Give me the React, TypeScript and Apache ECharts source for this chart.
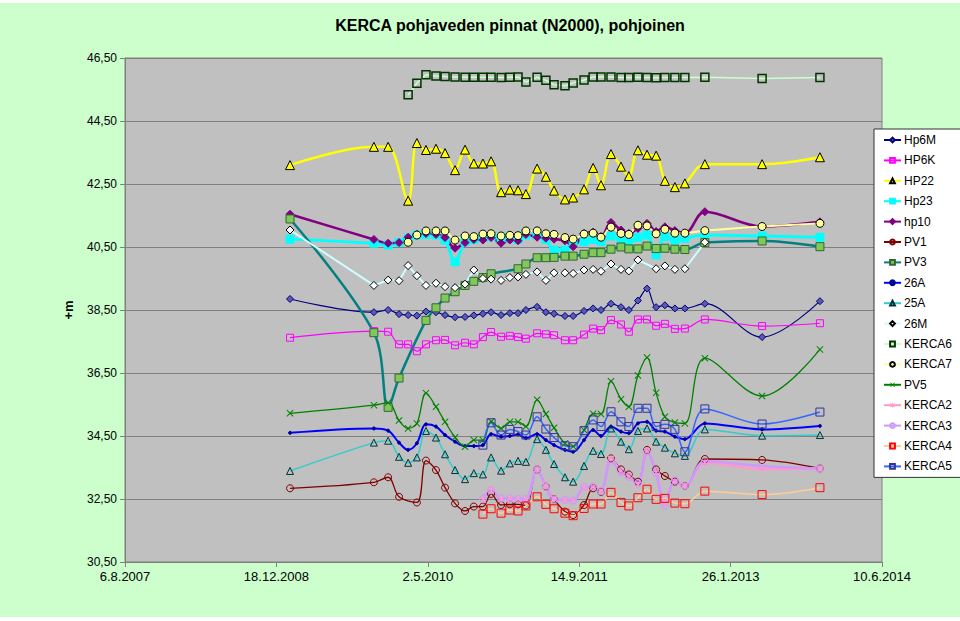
import React, { useEffect, useRef } from "react";
import * as echarts from "echarts";

const N = null;

// measurement dates
const DATES = [
  "2009-02-01", "2009-11-05", "2009-12-22", "2010-01-27", "2010-02-26", "2010-03-27",
  "2010-04-26", "2010-05-29", "2010-06-28", "2010-07-31", "2010-09-02", "2010-10-01",
  "2010-10-31", "2010-11-27", "2010-12-30", "2011-01-28", "2011-02-24", "2011-03-22",
  "2011-04-28", "2011-05-27", "2011-06-23", "2011-07-29", "2011-08-25", "2011-09-30",
  "2011-10-30", "2011-11-25", "2011-12-28", "2012-01-30", "2012-02-25", "2012-03-26",
  "2012-04-25", "2012-05-25", "2012-06-23", "2012-07-26", "2012-08-28", "2012-11-02",
  "2013-05-10", "2013-11-17",
];

const hp6M = [38.85, 38.43, 38.50, 38.37, 38.34, 38.32, 38.45, 38.43, 38.34, 38.27, 38.28, 38.33, 38.38, 38.43, 38.34, 38.40, 38.40, 38.50, 38.60, 38.43, 38.38, 38.31, 38.31, 38.47, 38.55, 38.50, 38.70, 38.59, 38.50, 38.80, 39.18, 38.59, 38.65, 38.55, 38.55, 38.70, 37.64, 38.78];
const hp6K = [37.62, 37.83, 37.81, 37.41, 37.41, 37.19, 37.41, 37.54, 37.55, 37.38, 37.46, 37.41, 37.64, 37.80, 37.65, 37.68, 37.64, 37.59, 37.76, 37.73, 37.70, 37.54, 37.54, 37.72, 37.91, 37.86, 38.18, 38.04, 37.81, 38.20, 38.20, 38.00, 38.06, 37.90, 37.91, 38.20, 37.99, 38.08];
const hp22 = [43.10, 43.68, 43.68, N, 41.97, 43.80, 43.58, 43.62, 43.48, 42.94, 43.59, 43.15, 43.15, 43.22, 42.24, 42.32, 42.30, 42.18, 42.99, 42.73, 42.29, 42.01, 42.07, 42.33, 43.01, 42.46, 43.45, 43.05, 42.75, 43.57, 43.43, 43.40, 42.60, 42.40, 42.52, 43.13, 43.13, 43.35];
const hp23 = [40.75, 40.62, 40.56, 40.64, 40.78, 40.88, 40.90, 40.88, 40.72, 40.03, 40.67, 40.74, 40.81, 40.83, 40.81, 40.78, 40.74, 40.88, 40.88, 40.74, 40.40, 40.40, 40.62, 40.67, 40.74, 40.67, 40.85, 40.72, 40.64, 40.81, 40.88, 40.25, 40.83, 40.72, 40.78, 40.88, 40.85, 40.81];
const hp10 = [41.54, 40.74, 40.62, 40.64, 40.81, 40.90, 40.93, 40.90, 40.80, 40.46, 40.64, 40.74, 40.72, 40.80, 40.62, 40.72, 40.70, 40.90, 40.81, 40.78, 40.75, 40.70, 40.51, 40.93, 40.97, 40.83, 41.28, 41.04, 40.93, 41.09, 41.25, 40.99, 41.14, 41.02, 40.93, 41.62, 41.15, 41.30];
const pv1 = [32.84, 33.03, 33.19, 32.57, N, 32.39, 33.72, 33.42, 32.86, 32.36, 32.12, 32.26, 32.26, 32.66, 32.31, 32.33, 32.33, 32.29, 33.44, 32.89, 32.49, 32.10, 31.99, 32.31, 32.84, 32.73, 33.79, 33.44, 33.28, 33.05, 34.06, 33.44, 33.23, 33.05, 32.91, 33.77, 33.74, 33.47];
const pv3 = [41.39, 37.78, 35.41, 36.34, N, N, 38.17, 38.57, 38.88, 39.08, 39.28, 39.41, 39.53, 39.65, N, N, 39.81, 39.96, 40.16, 40.16, 40.17, 40.21, 40.21, 40.27, 40.32, 40.32, 40.43, 40.50, 40.44, 40.44, 40.53, 40.45, 40.46, 40.43, 40.42, 40.64, 40.69, 40.51];
const a26 = [34.60, 34.74, 34.67, 34.29, 34.06, 34.27, 34.87, 34.80, 34.53, 34.32, 34.18, 34.18, 34.21, 34.56, 34.48, 34.50, 34.55, 34.43, 34.56, 34.37, 34.21, 34.06, 34.00, 34.37, 34.69, 34.50, 34.80, 34.64, 34.59, 34.90, 34.95, 34.67, 34.64, 34.48, 34.40, 34.90, 34.71, 34.82];
const a25 = [33.39, 34.29, 34.35, 33.84, 33.65, 33.82, 34.66, 34.45, 33.92, 33.42, 33.13, 33.32, 33.28, 33.82, 33.40, 33.63, 33.71, 33.68, 34.40, 34.06, 33.61, 33.19, 33.05, 33.55, 34.03, 33.93, 34.74, 34.32, 34.08, 34.66, 34.74, 34.32, 34.13, 33.95, 33.87, 34.71, 34.51, 34.53];
const m26 = [41.04, 39.28, 39.45, 39.43, 39.91, 39.59, 39.28, 39.35, 39.24, 39.21, 39.32, 39.77, 39.50, 39.48, 39.44, 39.53, 39.55, 39.63, 39.71, 39.44, 39.68, 39.68, 39.66, 39.77, 39.79, 39.73, 39.96, 39.79, 39.74, 40.09, N, 39.81, 39.90, 39.79, 39.81, 40.65, N, N];
const kerca6 = [N, N, N, N, 45.33, 45.70, 45.97, 45.93, 45.91, 45.90, 45.89, 45.89, 45.89, 45.89, 45.88, 45.89, 45.90, 45.74, 45.89, 45.79, 45.65, 45.62, 45.71, 45.80, 45.90, 45.90, 45.90, 45.88, 45.88, 45.89, 45.88, 45.87, 45.88, 45.88, 45.88, 45.89, 45.85, 45.88];
const kerca7 = [N, N, N, N, 40.65, 40.88, 41.01, 41.01, 41.01, 40.72, 40.85, 40.83, 40.91, 40.92, 40.85, 40.87, 40.86, 41.01, 41.01, 40.92, 40.90, 40.80, 40.75, 40.91, 40.94, 40.81, 41.13, 40.93, 40.90, 41.19, 41.17, 40.92, 41.06, 40.94, 40.94, 41.02, 41.15, 41.25];
const pv5 = [35.22, 35.48, 35.56, 34.99, 34.74, 34.90, 35.86, 35.43, 34.95, 34.46, 34.16, 34.37, 34.37, 34.96, 34.74, 34.95, 34.95, 34.80, 35.65, 35.20, 34.76, 34.26, 34.17, 34.69, 35.21, 35.20, 36.24, 35.67, 35.43, 36.42, 36.99, 35.87, 35.11, 34.93, 34.90, 36.97, 35.77, 37.25];
const kerca2 = [N, N, N, N, N, N, N, N, N, N, N, N, 32.48, 32.80, 32.50, 32.50, 32.50, 32.48, 33.45, 32.92, 32.50, 32.45, 32.45, 32.85, 32.88, 32.75, 33.78, 33.38, 33.22, 32.95, 34.02, 33.35, 32.40, 33.05, 32.92, 33.65, 33.45, 33.45];
const kerca3 = [N, N, N, N, N, N, N, N, N, N, N, N, 32.50, 32.78, 32.52, 32.52, 32.50, 32.50, 33.45, 32.88, 32.48, 32.47, 32.45, 32.88, 32.90, 32.75, 33.72, 33.35, 33.20, 33.00, 34.00, 33.30, 32.30, 33.10, 32.90, 33.70, 33.55, 33.47];
const kerca4 = [N, N, N, N, N, N, N, N, N, N, N, N, 32.02, 32.19, 32.05, 32.15, 32.12, 32.28, 32.57, 32.33, 32.19, 32.05, 31.97, 32.20, 32.34, 32.34, 32.71, 32.39, 32.28, 32.54, 32.81, 32.49, 32.52, 32.37, 32.35, 32.75, 32.64, 32.86];
const kerca5 = [N, N, N, N, N, N, N, N, N, N, N, N, 34.21, 34.92, 34.53, 34.71, 34.64, 34.53, 35.11, 34.72, 34.45, 34.19, 34.16, 34.67, 35.01, 34.80, 35.27, 34.95, 34.80, 35.38, 35.38, 34.80, 34.87, 34.71, 34.00, 35.36, 34.88, 35.26];

const TITLE = "KERCA pohjaveden pinnat (N2000), pohjoinen";
const Y_NAME = "+m";
const Y_MIN = 30.5;
const Y_MAX = 46.5;
const Y_STEP = 2;
const X_START = "2007-08-06";
const X_SPAN_DAYS = 2500;
const X_STEP_DAYS = 500;

const DAY = 86400000;
const BASE = Date.parse(X_START);
const toDay = (s: string) => (Date.parse(s) - BASE) / DAY;

const X_PATH = "path://M0,1L1,0L5,4L9,0L10,1L6,5L10,9L9,10L5,6L1,10L0,9L4,5Z";
const STAR_PATH = "path://M4.4,0H5.6V10H4.4Z M0,1L1,0L5,4L9,0L10,1L6,5L10,9L9,10L5,6L1,10L0,9L4,5Z";
const CLEAR = "rgba(0,0,0,0)";

type Def = {
  name: string; data: (number | null)[]; color: string; width: number;
  symbol: string; size: number; fill: string; border: string; bw?: number; smooth?: boolean;
};

const DEFS: Def[] = [
  { name: "Hp6M", data: hp6M, color: "#000080", width: 1.2, symbol: "diamond", size: 7, fill: "#5a5ab0", border: "#000080" },
  { name: "HP6K", data: hp6K, color: "#FF00FF", width: 1.2, symbol: "rect", size: 7, fill: CLEAR, border: "#FF00FF" },
  { name: "HP22", data: hp22, color: "#FFFF00", width: 2.5, symbol: "triangle", size: 9, fill: "#FFFF00", border: "#000000" },
  { name: "Hp23", data: hp23, color: "#00FFFF", width: 3, symbol: "rect", size: 8, fill: "#00FFFF", border: "#00FFFF" },
  { name: "hp10", data: hp10, color: "#800080", width: 2.5, symbol: "diamond", size: 8, fill: "#800080", border: "#800080" },
  { name: "PV1", data: pv1, color: "#800000", width: 1.3, symbol: "circle", size: 7, fill: CLEAR, border: "#800000" },
  { name: "PV3", data: pv3, color: "#008080", width: 2.5, symbol: "rect", size: 8, fill: "#80C85A", border: "#336633" },
  { name: "26A", data: a26, color: "#0000FF", width: 2, symbol: "circle", size: 3, fill: "#000099", border: "#000099" },
  { name: "25A", data: a25, color: "#33CCCC", width: 1.5, symbol: "triangle", size: 7, fill: CLEAR, border: "#003333" },
  { name: "26M", data: m26, color: "#CCFFFF", width: 2, symbol: "diamond", size: 8, fill: "#FFFFFF", border: "#000000", smooth: false },
  { name: "KERCA6", data: kerca6, color: "#CCFFCC", width: 1.5, symbol: "rect", size: 8, fill: CLEAR, border: "#003300", bw: 1.5, smooth: false },
  { name: "KERCA7", data: kerca7, color: "#FFFF99", width: 2, symbol: "circle", size: 8, fill: "#FFFF99", border: "#000000" },
  { name: "PV5", data: pv5, color: "#008000", width: 1.3, symbol: X_PATH, size: 7, fill: "#008000", border: "#008000", bw: 0 },
  { name: "KERCA2", data: kerca2, color: "#FF99CC", width: 2.5, symbol: STAR_PATH, size: 7, fill: "#FF99CC", border: "#FF99CC", bw: 0 },
  { name: "KERCA3", data: kerca3, color: "#CC99FF", width: 2.5, symbol: "circle", size: 7, fill: CLEAR, border: "#CC99FF" },
  { name: "KERCA4", data: kerca4, color: "#FFCC99", width: 1.5, symbol: "rect", size: 8, fill: CLEAR, border: "#FF0000" },
  { name: "KERCA5", data: kerca5, color: "#3366FF", width: 1.5, symbol: "rect", size: 8, fill: CLEAR, border: "#333399" },
];

const fmtDate = (v: number) => {
  const d = new Date(BASE + v * DAY);
  return `${d.getUTCDate()}.${d.getUTCMonth() + 1}.${d.getUTCFullYear()}`;
};

export default function App() {
  const ref = useRef<HTMLDivElement>(null);
  useEffect(() => {
    if (!ref.current) return;
    const chart = echarts.init(ref.current, null, { renderer: "svg" });
    const series = DEFS.map((s) => ({
      name: s.name,
      type: "line",
      smooth: s.smooth === false ? false : 0.35,
      symbol: s.symbol,
      symbolSize: s.size,
      showSymbol: true,
      data: DATES.map((d, i) => (s.data[i] == null ? null : [toDay(d), (s.data[i] as number) - Y_MIN])).filter((p) => p !== null),
      lineStyle: { color: s.color, width: s.width },
      itemStyle: { color: s.fill, borderColor: s.border, borderWidth: s.bw ?? 1 },
      emphasis: { disabled: true },
    }));
    chart.setOption({
      animation: false,
      backgroundColor: "transparent",
      textStyle: { fontFamily: "Arial, 'Liberation Sans', sans-serif" },
      graphic: [
        {
          type: "text", x: 510, y: 25,
          style: { text: TITLE, font: "bold 16px Arial, 'Liberation Sans', sans-serif", fill: "#000", textAlign: "center", textVerticalAlign: "middle" },
        },
        {
          type: "text", x: 68, y: 310, rotation: Math.PI / 2,
          style: { text: Y_NAME, font: "bold 13px Arial, 'Liberation Sans', sans-serif", fill: "#000", textAlign: "center", textVerticalAlign: "middle" },
        },
      ],
      grid: {
        left: 125, top: 58, width: 757, height: 504, containLabel: false,
        show: true, backgroundColor: "#C0C0C0", borderColor: "#808080", borderWidth: 1,
      },
      legend: {
        orient: "vertical", left: 874, top: 129,
        backgroundColor: "#FFFFFF", borderColor: "#333333", borderWidth: 1,
        padding: [4, 10, 4, 9], itemWidth: 17, itemHeight: 6, itemGap: 6.4,
        textStyle: { fontSize: 12, color: "#000", fontFamily: "Arial, 'Liberation Sans', sans-serif", padding: [0, 0, 0, -2], lineHeight: 14 },
        data: DEFS.map((d) => d.name),
      },
      xAxis: {
        type: "value", min: 0, max: X_SPAN_DAYS, interval: X_STEP_DAYS,
        axisLine: { show: true, onZero: false, lineStyle: { color: "#808080" } },
        axisTick: { show: true, length: 5, lineStyle: { color: "#808080" } },
        splitLine: { show: false },
        axisLabel: { formatter: fmtDate, color: "#000", fontSize: 13, margin: 8, showMinLabel: true, showMaxLabel: true },
      },
      yAxis: {
        type: "value", min: 0, max: Y_MAX - Y_MIN, interval: Y_STEP,
        axisLine: { show: true, lineStyle: { color: "#808080" } },
        axisTick: { show: true, length: 5, lineStyle: { color: "#808080" } },
        splitLine: { show: true, lineStyle: { color: "#808080", width: 1 } },
        axisLabel: { formatter: (v: number) => (v + Y_MIN).toFixed(2).replace(".", ","), color: "#000", fontSize: 12, margin: 8 },
      },
      series,
    });
    return () => chart.dispose();
  }, []);
  return (
    <div
      ref={ref}
      style={{
        position: "fixed", left: 0, top: 0, width: 960, height: 621,
        background: "linear-gradient(#FFFFFF 0px, #FFFFFF 3px, #CCFFCC 3px, #CCFFCC 617px, #FFFFFF 617px)",
      }}
    />
  );
}
